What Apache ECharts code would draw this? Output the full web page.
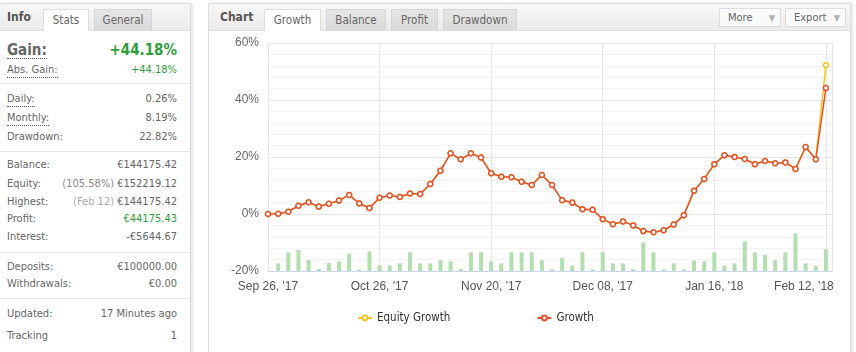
<!DOCTYPE html>
<html>
<head>
<meta charset="utf-8">
<script src="https://cdn.jsdelivr.net/npm/echarts@6/dist/echarts.min.js"></script>
<style>
  body { margin: 0; width: 856px; height: 352px; overflow: hidden; background: #fff;
         font-family: "DejaVu Sans Condensed", "Noto Sans", sans-serif; font-size: 11px; color: #666; position: relative; }
  .panel { position: absolute; top: 3px; height: 360px; border: 1px solid #dcdcdc; background: #fff;
           box-shadow: 2px 0 3px rgba(0,0,0,0.10); box-sizing: border-box; }
  .hdr { position: absolute; top: 4px; height: 26px; background: linear-gradient(#f6f6f6, #ececec);
         border-bottom: 1px solid #dedede; }
  .title { position: absolute; top: 10px; font-weight: bold; font-size: 12px; color: #555; }
  .tab { position: absolute; top: 9px; height: 21px; line-height: 21px; text-align: center; font-size: 11.5px;
         color: #666; box-sizing: border-box; border: 1px solid #d4d4d4; border-bottom: none;
         background: linear-gradient(#e6e6e6, #d9d9d9); }
  .tab.on { background: #fff; height: 22px; border-color: #dedede; }
  .btn { position: absolute; top: 8px; height: 19px; line-height: 18px; box-sizing: border-box;
         border: 1px solid #dedede; background: #fafafa; color: #666; font-size: 11px; padding-left: 8px; }
  .btn i { position: absolute; right: 5px; top: 0; font-style: normal; font-size: 9px; color: #b0b0b0; }
  .row { position: absolute; left: 7px; width: 170px; height: 16px; line-height: 16px; }
  .row .l { float: left; }
  .row .v { float: right; }
  .dot { border-bottom: 1px dotted #666; display: inline-block; height: 16px; box-sizing: border-box; line-height: 16px; }
  .sep { position: absolute; left: 0; width: 190px; height: 1px; background: #e6e6e6; }
  .g { color: #2f9e3c; }
  .mute { color: #aaa; }
  #chart { position: absolute; left: 208px; top: 31px; width: 642px; height: 321px; }
</style>
</head>
<body>
<!-- info panel -->
<div class="panel" style="left:-1px;width:192px;"></div>
<div class="hdr" style="left:0;width:190px;"></div>
<div class="title" style="left:7px;">Info</div>
<div class="tab on" style="left:43px;width:46px;">Stats</div>
<div class="tab" style="left:94px;width:58px;">General</div>

<div class="row" style="top:41px;height:18px;line-height:18px;font-size:15px;font-weight:bold;">
  <span class="l dot" style="height:18px;line-height:18px;">Gain:</span><span class="v g">+44.18%</span></div>
<div class="row" style="top:62px;"><span class="l dot">Abs. Gain:</span><span class="v g">+44.18%</span></div>
<div class="sep" style="top:83px;"></div>
<div class="row" style="top:91px;"><span class="l dot">Daily:</span><span class="v">0.26%</span></div>
<div class="row" style="top:110px;"><span class="l dot">Monthly:</span><span class="v">8.19%</span></div>
<div class="row" style="top:129px;"><span class="l">Drawdown:</span><span class="v">22.82%</span></div>
<div class="sep" style="top:151px;"></div>
<div class="row" style="top:157px;"><span class="l">Balance:</span><span class="v">€144175.42</span></div>
<div class="row" style="top:176px;"><span class="l">Equity:</span><span class="v"><span style="color:#888">(105.58%)</span> €152219.12</span></div>
<div class="row" style="top:194px;"><span class="l">Highest:</span><span class="v"><span class="mute">(Feb 12)</span> €144175.42</span></div>
<div class="row" style="top:211px;"><span class="l">Profit:</span><span class="v g">€44175.43</span></div>
<div class="row" style="top:229px;"><span class="l">Interest:</span><span class="v">-€5644.67</span></div>
<div class="sep" style="top:252px;"></div>
<div class="row" style="top:259px;"><span class="l">Deposits:</span><span class="v">€100000.00</span></div>
<div class="row" style="top:276px;"><span class="l">Withdrawals:</span><span class="v">€0.00</span></div>
<div class="sep" style="top:298px;"></div>
<div class="row" style="top:306px;"><span class="l">Updated:</span><span class="v">17 Minutes ago</span></div>
<div class="row" style="top:328px;"><span class="l">Tracking</span><span class="v">1</span></div>

<!-- chart panel -->
<div class="panel" style="left:208px;width:643px;"></div>
<div class="hdr" style="left:209px;width:641px;"></div>
<div class="title" style="left:220px;">Chart</div>
<div class="tab on" style="left:264px;width:57px;">Growth</div>
<div class="tab" style="left:326px;width:60px;">Balance</div>
<div class="tab" style="left:391px;width:47px;">Profit</div>
<div class="tab" style="left:443px;width:74px;">Drawdown</div>
<div class="btn" style="left:719px;width:62px;">More<i>▼</i></div>
<div class="btn" style="left:785px;width:61px;">Export<i>▼</i></div>

<div id="chart"></div>
<script>
// tick labels, one every 11 points
const tickLabels = ["Sep 26, '17", "Oct 26, '17", "Nov 20, '17", "Dec 08, '17", "Jan 16, '18", "Feb 12, '18"];

// growth in %
const growth = [0, 0.1, 0.8, 2.9, 4.1, 2.6, 3.6, 4.7, 6.7, 3.7, 2.1, 5.7, 6.5, 6.0, 7.2, 7.0, 10.5,
  15.2, 21.3, 19.2, 21.3, 19.8, 14.3, 13.1, 12.9, 11.3, 10.2,
  13.7, 10.2, 4.8, 4.0, 1.7, 1.5, -1.8, -3.6, -2.6, -4.0, -6.0, -6.4, -5.7, -3.7, -0.4,
  8.2, 12.3, 17.5, 20.6, 20.0, 19.3, 17.5, 18.6, 17.8, 18.1, 15.8, 23.5, 19.2, 44.18];

// equity growth in %, same as growth until the last point
const equity = [0, 0.1, 0.8, 2.9, 4.1, 2.6, 3.6, 4.7, 6.7, 3.7, 2.1, 5.7, 6.5, 6.0, 7.2, 7.0, 10.5,
  15.2, 21.3, 19.2, 21.3, 19.8, 14.3, 13.1, 12.9, 11.3, 10.2,
  13.7, 10.2, 4.8, 4.0, 1.7, 1.5, -1.8, -3.6, -2.6, -4.0, -6.0, -6.4, -5.7, -3.7, -0.4,
  8.2, 12.3, 17.5, 20.6, 20.0, 19.3, 17.5, 18.6, 17.8, 18.1, 15.8, 23.5, 19.2, 52.22];

// activity bars (no unit on the picture)
const activity = [0, 23, 56, 63, 33, 6, 24, 29, 52, 5, 59, 17, 17, 23, 56, 23, 23, 33, 29, 6, 56, 56, 29, 23, 56, 56, 56,
  33, 5, 40, 16, 56, 5, 56, 23, 23, 5, 86, 56, 5, 23, 5, 32, 29, 56, 16, 23, 89, 56, 49, 32, 56, 113, 23, 16, 65];

const yTicks = [-20, 0, 20, 40, 60];

const pairs = arr => arr.map((v, i) => [i, v]);
const lastTick = (tickLabels.length - 1) * 11;

const chart = echarts.init(document.getElementById("chart"));
chart.setOption({
  animation: false,
  grid: {left: 60, right: 18, top: 12, bottom: 81, outerBoundsMode: "none"},
  legend: {
    left: 144,
    top: 276,
    itemWidth: 14,
    itemHeight: 6,
    itemGap: 86,
    data: ["Equity Growth", "Growth"],
    textStyle: {color: "#333", fontSize: 11.5, fontFamily: "DejaVu Sans Condensed"},
  },
  xAxis: {
    type: "value",
    min: 0,
    max: 55.6,
    interval: 11,
    axisLine: {show: true, onZero: false, lineStyle: {color: "#ccd6eb"}},
    axisTick: {show: false},
    splitLine: {show: true, lineStyle: {color: "#e6e6e6"}},
    axisLabel: {
      color: "#555",
      fontSize: 12,
      fontFamily: "Liberation Sans",
      margin: 10,
      showMaxLabel: false,
      // last label is pulled inside the plot, as in the original
      formatter: v => {
        if (v % 11 !== 0) return "";
        const t = tickLabels[v / 11];
        return v === lastTick ? "{end|" + t + "}" : t;
      },
      rich: {end: {color: "#555", fontSize: 12, fontFamily: "Liberation Sans", padding: [0, 44, 0, 0]}},
    },
  },
  yAxis: [
    {
      type: "value",
      min: yTicks[0],
      max: yTicks[yTicks.length - 1],
      interval: 20,
      axisLine: {show: false},
      axisTick: {show: false},
      axisLabel: {color: "#666", fontSize: 12, fontFamily: "Liberation Sans", margin: 9, formatter: "{value}%"},
      splitLine: {lineStyle: {color: "#e6e6e6"}},
      minorTick: {show: false, splitNumber: 5},
      minorSplitLine: {show: true, lineStyle: {color: "#f3f3f3"}},
    },
    {type: "value", min: 0, max: 684, show: false, splitLine: {show: false}},
  ],
  series: [
    {
      name: "activity",
      type: "bar",
      yAxisIndex: 1,
      barWidth: 4,
      itemStyle: {color: "#b3dfb0"},
      data: pairs(activity),
      z: 1,
    },
    {
      name: "Equity Growth",
      type: "line",
      data: pairs(equity),
      symbol: "circle",
      symbolSize: 5,
      lineStyle: {color: "#f7c41f", width: 1.5},
      itemStyle: {color: "#fff", borderColor: "#f7c41f", borderWidth: 1.5},
      z: 2,
    },
    {
      name: "Growth",
      type: "line",
      data: pairs(growth),
      symbol: "circle",
      symbolSize: 5,
      lineStyle: {color: "#e4502b", width: 1.5},
      itemStyle: {color: "#fff", borderColor: "#e4502b", borderWidth: 1.5},
      z: 3,
    },
  ],
});
</script>
</body>
</html>
